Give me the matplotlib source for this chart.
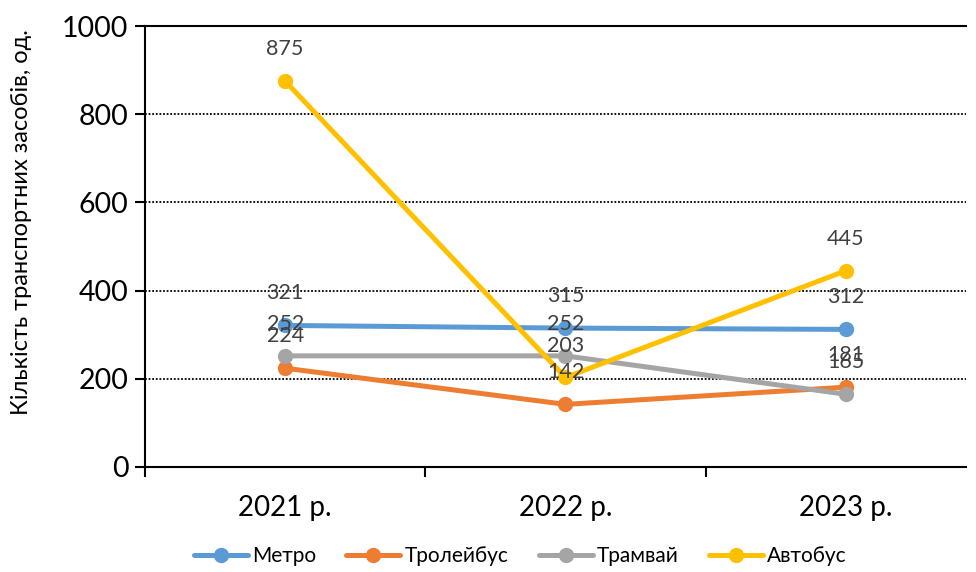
import matplotlib
matplotlib.use("Agg")
from matplotlib import pyplot as plt

years = ["2021 р.", "2022 р.", "2023 р."]
metro = [321, 315, 312]
troll = [224, 142, 181]
tram = [252, 252, 165]
bus = [875, 203, 445]

names = ["Метро", "Тролейбус", "Трамвай", "Автобус"]
colors = ["#5B9BD5", "#ED7D31", "#A5A5A5", "#FFC000"]

plt.rcParams['font.family'] = ['Lato', 'DejaVu Sans']

fig = plt.figure(figsize=(9.76, 5.72), dpi=100)
ax = fig.add_axes([0.1486, 0.1836, 0.8414, 0.7709])

x = list(range(len(years)))
for series, name, c in zip([metro, troll, tram, bus], names, colors):
    ax.plot(x, series, color=c, lw=3.6, marker='o', markersize=10,
            label=name, solid_capstyle='round', zorder=3)
    # value labels sit a fixed distance above each point
    for xi, v in zip(x, series):
        ax.annotate(str(v), (xi, v), xytext=(0, 23), textcoords='offset points',
                    ha='center', va='center', fontsize=15.5, color='#404040', zorder=5)

ax.set_ylim(0, 1000)
ax.set_xlim(-0.5, 2.43)
ax.set_yticks([0, 200, 400, 600, 800, 1000])
ax.set_xticks(x)
ax.set_xticklabels(years)
ax.set_xticks([-0.5, 0.5, 1.5], minor=True)
ax.tick_params(axis='x', which='major', length=0, labelsize=20, pad=20)
ax.tick_params(axis='x', which='minor', length=7, width=1.5, direction='out')
ax.tick_params(axis='y', length=7, width=1.5, direction='out', labelsize=20.5, pad=5)

for yv in [200, 400, 600, 800]:
    ax.axhline(yv, color='black', lw=1.3, linestyle=(0, (1, 1)), zorder=1)

for s in ['left', 'bottom', 'top']:
    ax.spines[s].set_linewidth(1.5)
    ax.spines[s].set_color('black')
ax.spines['right'].set_visible(False)

ax.set_ylabel("Кількість транспортних засобів, од.", fontsize=17)
ax.yaxis.set_label_coords(-0.138, 0.555)

ax.legend(loc='center', bbox_to_anchor=(0.457, -0.202), ncol=4, frameon=False,
          fontsize=15, handlelength=2.6, handletextpad=0.2, columnspacing=1.45)

fig.savefig("out.png", dpi=100)
